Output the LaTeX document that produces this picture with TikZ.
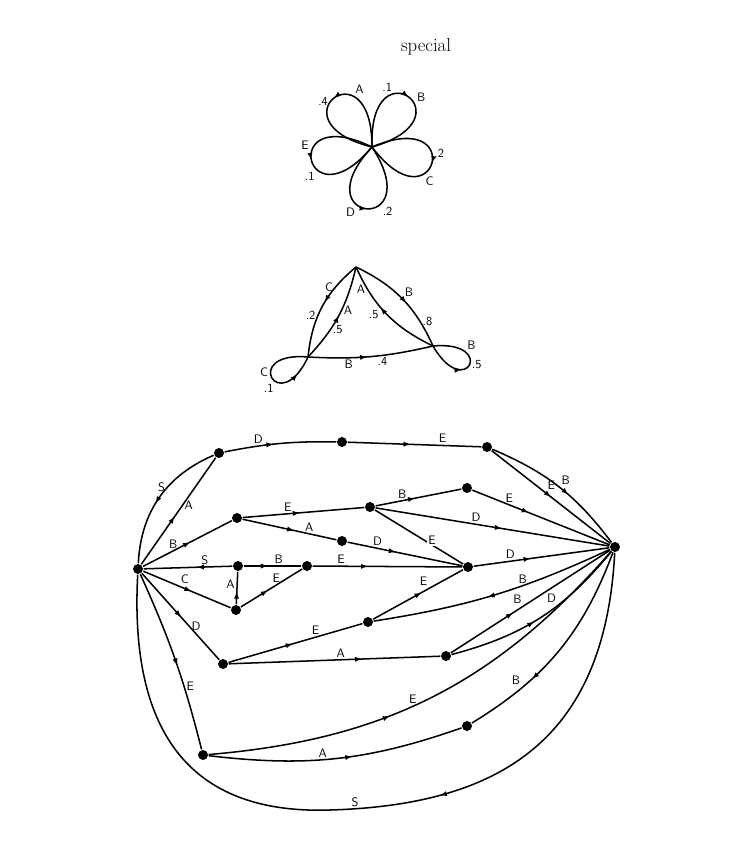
\documentclass[tikz,border=0pt]{standalone}
\usepackage{tikz}
\usetikzlibrary{arrows.meta,decorations.markings}

\begin{document}
\begin{tikzpicture}[
  x=0.03cm, y=-0.03cm,
  line width=1.3pt,
  dot/.style={circle, fill, inner sep=0pt, minimum size=8.5pt},
  lbl/.style={font=\sffamily\fontsize{10.5}{12}\selectfont, inner sep=1.5pt},
  arr/.style={postaction={decorate}, decoration={markings,
      mark=at position #1 with {\arrow{Latex[length=6pt,width=4.5pt]}}}},
  arr/.default=0.5
]
\path[use as bounding box] (0,0) rectangle (748,844);
\node (title) at (426,47) {\fontsize{16}{19}\selectfont special};

% Flower
\coordinate (fc) at (372,147);
\draw[arr=0.5] (fc) .. controls +(-90:105) and +(-166:105) .. (fc)
  node[lbl, pos=0.3, anchor=south west] {A}
  node[lbl, pos=0.55, anchor=east] {.4};
\draw[arr=0.5] (fc) .. controls +(-92:105) and +(-16:105) .. (fc)
  node[lbl, pos=0.35, anchor=south east] {.1}
  node[lbl, pos=0.6, anchor=south west] {B};
\draw[arr=0.5] (fc) .. controls +(-23:105) and +(53:105) .. (fc)
  node[lbl, pos=0.4, anchor=west] {.2}
  node[lbl, pos=0.65, anchor=north west] {C};
\draw[arr=0.5] (fc) .. controls +(133:105) and +(57:105) .. (fc)
  node[lbl, pos=0.4, anchor=north east] {D}
  node[lbl, pos=0.65, anchor=north west] {.2};
\draw[arr=0.5] (fc) .. controls +(-154:105) and +(130:105) .. (fc)
  node[lbl, pos=0.42, anchor=south east] {E}
  node[lbl, pos=0.62, anchor=north east] {.1};

% Triangle
\coordinate (tt) at (356,267);
\coordinate (tl) at (308,357);
\coordinate (tr) at (433,346);
\draw[arr=0.45] (tt) to[bend right=22] node[lbl, pos=0.26, left] {C} node[lbl, pos=0.6, left] {.2} (tl);
\draw[arr=0.5] (tl) to[bend right=15] node[lbl, pos=0.56, right] {A} node[lbl, pos=0.33, right] {.5} (tt);
\draw[arr=0.55] (tt) to[bend left=20] node[lbl, pos=0.5, above right] {B} node[lbl, pos=0.77, right] {.8} (tr);
\draw[arr=0.58] (tr) to[bend left=20] node[lbl, pos=0.79, left] {A} node[lbl, pos=0.58, below left] {.5} (tt);
\draw[arr=0.47] (tl) to[bend right=8] node[lbl, pos=0.31, below] {B} node[lbl, pos=0.6, below] {.4} (tr);
\draw[arr=0.8] (tl) .. controls +(-175:68) and +(115:68) .. (tl)
  node[lbl, pos=0.4, left] {C} node[lbl, pos=0.6, below left] {.1};
\draw[arr=0.4] (tr) .. controls +(60:65) and +(-5:65) .. (tr)
  node[lbl, pos=0.75, above right] {B} node[lbl, pos=0.5, right] {.5};

% Big graph: hubs and states
\node[dot] (hl) at (138,569) {};
\node[dot] (hr) at (615,547) {};
\node[dot] (a1) at (219,453) {};
\node[dot] (a2) at (342,442) {};
\node[dot] (a3) at (487,447) {};
\node[dot] (b1) at (237,518) {};
\node[dot] (b2) at (370,507) {};
\node[dot] (b3) at (467,488) {};
\node[dot] (b4) at (342,541) {};
\node[dot] (c1) at (238,566) {};
\node[dot] (c2) at (307,566) {};
\node[dot] (c3) at (468,567) {};
\node[dot] (c4) at (236,610) {};
\node[dot] (d1) at (368,622) {};
\node[dot] (d2) at (223,664) {};
\node[dot] (d3) at (446,656) {};
\node[dot] (e1) at (203,755) {};
\node[dot] (e2) at (467,726) {};

% top row
\draw[arr=0.55] (a1) to[bend right=32] node[lbl, pos=0.4, left] {S} (hl);
\draw[arr=0.45] (hl) -- node[lbl, pos=0.55, right] {A} (a1);
\draw[arr=0.44] (a1) to[bend left=6] node[lbl, pos=0.29, above] {D} (a2);
\draw[arr=0.47] (a2) -- node[lbl, pos=0.71, above] {E} (a3);
\draw[arr=0.58] (a3) to[bend left=15] node[lbl, pos=0.5, above right] {B} (hr);
\draw[arr=0.5] (a3) -- node[lbl, pos=0.45, above right] {E} (hr);

% second row
\draw[arr=0.53] (hl) -- node[lbl, pos=0.34, above] {B} (b1);
\draw[arr=0.47] (b1) -- node[lbl, pos=0.37, above] {E} (b2);
\draw[arr=0.55] (b1) -- node[lbl, pos=0.71, above] {A} (b4);
\draw[arr=0.46] (b2) -- node[lbl, pos=0.31, above] {B} (b3);
\draw[arr=0.41] (b3) -- node[lbl, pos=0.27, above] {E} (hr);
\draw[arr=0.54] (b2) -- node[lbl, pos=0.43, above] {D} (hr);
\draw (b2) -- node[lbl, pos=0.62, fill=white, xshift=2pt, yshift=3pt] {E} (c3);
\draw[arr=0.42] (b4) -- node[lbl, pos=0.26, above] {D} (c3);

% middle row
\draw[arr=0.4] (c1) -- node[lbl, pos=0.31, above] {S} (hl);
\draw[arr=0.42] (c1) -- node[lbl, pos=0.61, above] {B} (c2);
\draw[arr=0.37] (c2) -- node[lbl, pos=0.19, above] {E} (c3);
\draw[arr=0.55] (hl) -- node[lbl, pos=0.4, above right] {C} (c4);
\draw[arr=0.39] (c4) -- node[lbl, pos=0.61, left] {A} (c1);
\draw[arr=0.44] (c4) -- node[lbl, pos=0.58, above] {E} (c2);
\draw[arr=0.42] (c3) -- node[lbl, pos=0.27, above] {D} (hr);

% lower rows
\draw[arr=0.54] (d1) -- node[lbl, pos=0.63, above left] {E} (c3);
\draw[arr=0.53] (hr) to[bend left=8] node[lbl, pos=0.37, above] {B} (d1);
\draw[arr=0.51] (hl) -- node[lbl, pos=0.61, right] {D} (d2);
\draw[arr=0.48] (d2) -- node[lbl, pos=0.65, above] {E} (d1);
\draw[arr=0.63] (d2) -- node[lbl, pos=0.53, above] {A} (d3);
\draw[arr=0.39] (d3) -- node[lbl, pos=0.46, above left] {B} (hr);
\draw[arr=0.46] (d3) to[bend right=18] node[lbl, pos=0.62, above left] {D} (hr);
\draw[arr=0.53] (hl) to[bend left=5] node[lbl, pos=0.66, right] {E} (e1);
\draw[arr=0.4] (e1) to[bend right=22] node[lbl, pos=0.45, above] {E} (hr);
\draw[arr=0.56] (e1) to[bend right=13] node[lbl, pos=0.44, above] {A} (e2);
\draw[arr=0.67] (hr) to[bend left=19] node[lbl, pos=0.74, above left] {B} (e2);
\draw[arr=0.41] (hr) .. controls (605,740) and (500,805) .. (330,810)
  node[lbl, pos=0.95, above] {S}
  .. controls (180,815) and (130,720) .. (hl);
\end{tikzpicture}
\end{document}
